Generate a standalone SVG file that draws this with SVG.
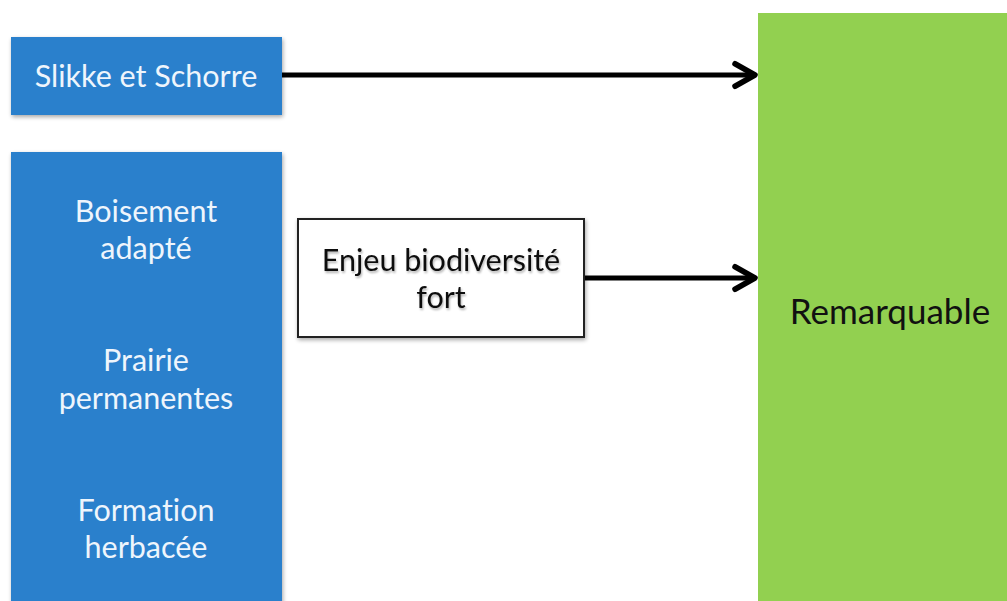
<svg xmlns="http://www.w3.org/2000/svg" width="1007" height="601" viewBox="0 0 1007 601">
  <style>
    .blue { fill: #2a80cc; }
    .green { fill: #92d050; }
    .white { fill: #ffffff; stroke: #222222; stroke-width: 2; }
    .lbl { font-family: Lato, "Open Sans", sans-serif; font-size: 30.5px; text-anchor: middle; font-variant-ligatures: none; }
    .big { font-size: 35px; }
    .lt { fill: #eef5fc; }
    .dk { fill: #111111; }
    .conn { stroke: #000000; stroke-width: 5; fill: none; }
  </style>
  <defs>
    <filter id="shadow" x="-10%" y="-10%" width="120%" height="120%">
      <feGaussianBlur in="SourceAlpha" stdDeviation="2"/>
      <feOffset dx="1" dy="2" result="b"/>
      <feComponentTransfer><feFuncA type="linear" slope="0.35"/></feComponentTransfer>
      <feMerge><feMergeNode/><feMergeNode in="SourceGraphic"/></feMerge>
    </filter>
    <filter id="tshadow" x="-10%" y="-20%" width="120%" height="150%">
      <feGaussianBlur in="SourceAlpha" stdDeviation="1.2"/>
      <feOffset dx="1" dy="2"/>
      <feComponentTransfer><feFuncA type="linear" slope="0.3"/></feComponentTransfer>
      <feMerge><feMergeNode/><feMergeNode in="SourceGraphic"/></feMerge>
    </filter>
    <marker id="chev" viewBox="0 0 12 12" refX="10" refY="6" markerWidth="6" markerHeight="6" markerUnits="strokeWidth" orient="auto">
      <path d="M2,1.5 L10,6 L2,10.5" fill="none" stroke="#000" stroke-width="2.2" stroke-linecap="round" stroke-linejoin="round"/>
    </marker>
  </defs>
  <rect width="1007" height="601" fill="#ffffff"/>

  <g id="connectors">
    <line class="conn" x1="282" y1="75" x2="755" y2="75" marker-end="url(#chev)"/>
    <line class="conn" x1="585" y1="278" x2="755" y2="278" marker-end="url(#chev)"/>
  </g>

  <g id="remarquable">
    <rect class="green" x="758" y="13" width="260" height="600"/>
    <text class="lbl big dk" x="890" y="324">Remarquable</text>
  </g>

  <g id="slikke">
    <rect class="blue" x="11" y="37" width="271" height="78" filter="url(#shadow)"/>
    <text class="lbl lt" x="146" y="87">Slikke et Schorre</text>
  </g>

  <g id="milieux">
    <rect class="blue" x="11" y="152" width="271" height="460" filter="url(#shadow)"/>
    <text class="lbl lt" x="146" y="222">Boisement</text>
    <text class="lbl lt" x="146" y="259">adapté</text>
    <text class="lbl lt" x="146" y="371">Prairie</text>
    <text class="lbl lt" x="146" y="409">permanentes</text>
    <text class="lbl lt" x="146" y="521">Formation</text>
    <text class="lbl lt" x="146" y="558">herbacée</text>
  </g>

  <g id="enjeu">
    <rect class="white" x="298" y="219" width="286" height="118" filter="url(#shadow)"/>
    <g filter="url(#tshadow)">
      <text class="lbl dk" x="441" y="271">Enjeu biodiversité</text>
      <text class="lbl dk" x="441" y="308">fort</text>
    </g>
  </g>
</svg>
